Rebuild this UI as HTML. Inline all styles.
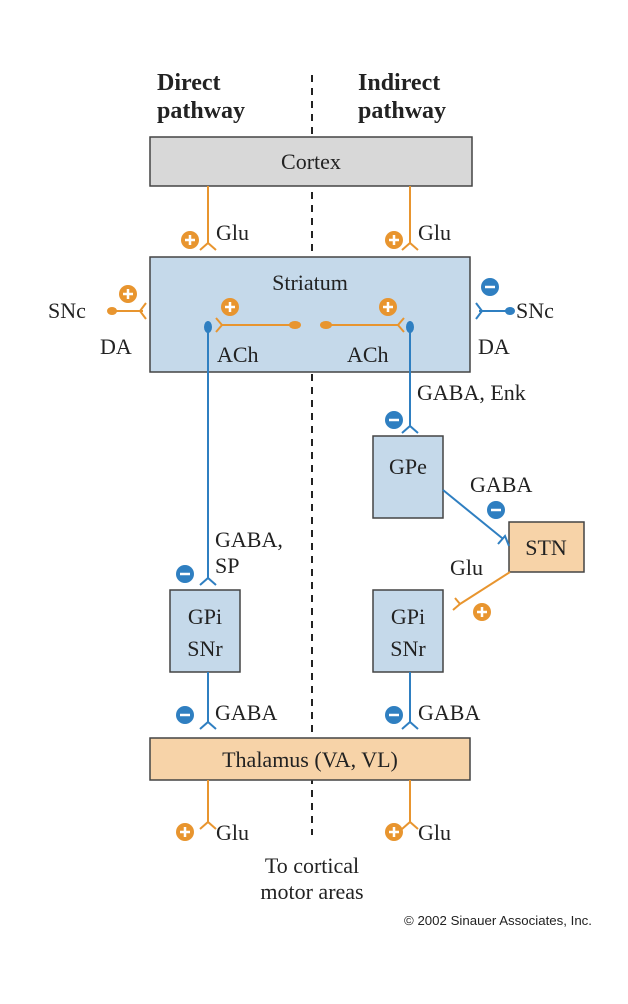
<!DOCTYPE html>
<html><head><style>body{margin:0;background:#fff}svg{display:block}</style></head><body>
<svg width="628" height="1004" viewBox="0 0 628 1004" xmlns="http://www.w3.org/2000/svg" font-family="Liberation Serif, serif" font-size="22" fill="#222">
<defs>
<g id="p"><circle r="9" fill="#e8952f"/><path d="M-5 0H5M0 -5V5" stroke="#fff" stroke-width="2.5"/></g>
<g id="m"><circle r="9" fill="#2f7fc1"/><path d="M-5 0H5" stroke="#fff" stroke-width="2.5"/></g>
</defs>
<line x1="312" y1="75" x2="312" y2="835" stroke="#222" stroke-width="2" stroke-dasharray="7,6"/>
<g font-weight="bold" font-size="24"><text x="157" y="90">Direct</text><text x="157" y="118">pathway</text><text x="358" y="90">Indirect</text><text x="358" y="118">pathway</text></g>
<g stroke="#444" stroke-width="1.5">
<rect x="150" y="137" width="322" height="49" fill="#d8d8d8"/>
<rect x="150" y="257" width="320" height="115" fill="#c5d9ea"/>
<rect x="373" y="436" width="70" height="82" fill="#c5d9ea"/>
<rect x="509" y="522" width="75" height="50" fill="#f7d3a8"/>
<rect x="170" y="590" width="70" height="82" fill="#c5d9ea"/>
<rect x="373" y="590" width="70" height="82" fill="#c5d9ea"/>
<rect x="150" y="738" width="320" height="42" fill="#f7d3a8"/>
</g>
<g text-anchor="middle"><text x="311" y="169">Cortex</text><text x="310" y="290">Striatum</text><text x="408" y="474">GPe</text><text x="546" y="555">STN</text>
<text x="205" y="624">GPi</text><text x="205" y="656">SNr</text><text x="408" y="624">GPi</text><text x="408" y="656">SNr</text>
<text x="310" y="767">Thalamus (VA, VL)</text><text x="312" y="873">To cortical</text><text x="312" y="899">motor areas</text></g>
<g fill="none" stroke-width="2">
<g stroke="#e8952f">
<path d="M208 186V243M200 250L208 243L216 250M410 186V243M402 250L410 243L418 250"/>
<path d="M208 780V822M200 829L208 822L216 829M410 780V822M402 829L410 822L418 829"/>
<path d="M112 311H143M146 303L140 311L146 319"/>
<path d="M222 325H292M216 318L222 325L216 332M330 325H398M404 318L398 325L404 332"/>
<path d="M510 572L460 604M455 598L460 604L453 610"/>
</g>
<g stroke="#2f7fc1">
<path d="M208 328V578M200 585L208 578L216 585M410 328V426M402 433L410 426L418 433"/>
<path d="M208 672V722M200 729L208 722L216 729M410 672V722M402 729L410 722L418 729"/>
<path d="M479 311H508M476 303L482 311L476 319"/>
<path d="M443 490L502 538M498 544L505 536L509 546"/>
</g></g>
<g fill="#e8952f"><ellipse cx="112" cy="311" rx="5" ry="4"/><ellipse cx="295" cy="325" rx="6" ry="4"/><ellipse cx="326" cy="325" rx="6" ry="4"/></g>
<g fill="#2f7fc1"><ellipse cx="208" cy="327" rx="4" ry="6"/><ellipse cx="410" cy="327" rx="4" ry="6"/><ellipse cx="510" cy="311" rx="5" ry="4"/></g>
<use href="#p" x="190" y="240"/><use href="#p" x="394" y="240"/><use href="#p" x="128" y="294"/><use href="#p" x="230" y="307"/><use href="#p" x="388" y="307"/>
<use href="#p" x="482" y="612"/><use href="#p" x="185" y="832"/><use href="#p" x="394" y="832"/>
<use href="#m" x="490" y="287"/><use href="#m" x="394" y="420"/><use href="#m" x="496" y="510"/><use href="#m" x="185" y="574"/><use href="#m" x="185" y="715"/><use href="#m" x="394" y="715"/>
<text x="216" y="240">Glu</text><text x="418" y="240">Glu</text>
<text x="48" y="318">SNc</text><text x="100" y="354">DA</text><text x="516" y="318">SNc</text><text x="478" y="354">DA</text>
<text x="217" y="362">ACh</text><text x="347" y="362">ACh</text>
<text x="417" y="400">GABA, Enk</text><text x="470" y="492">GABA</text><text x="450" y="575">Glu</text>
<text x="215" y="547">GABA,</text><text x="215" y="573">SP</text>
<text x="215" y="720">GABA</text><text x="418" y="720">GABA</text>
<text x="216" y="840">Glu</text><text x="418" y="840">Glu</text>
<text x="404" y="925" font-family="Liberation Sans, sans-serif" font-size="12.5" textLength="188" lengthAdjust="spacingAndGlyphs">© 2002 Sinauer Associates, Inc.</text>
</svg>
</body></html>
